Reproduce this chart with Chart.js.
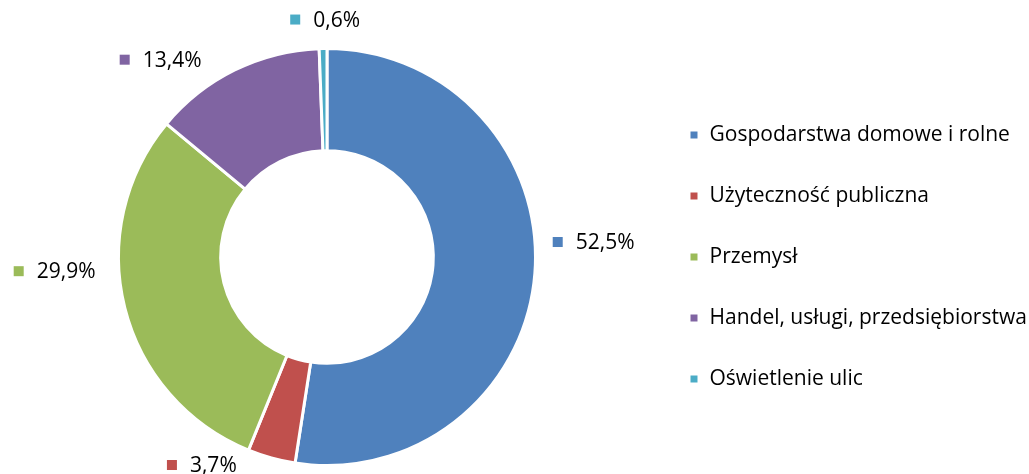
<!DOCTYPE html>
<html>
<head>
<meta charset="utf-8">
<script src="https://cdn.jsdelivr.net/npm/chart.js@4"></script>
<style>
  html, body { margin: 0; padding: 0; background: #fff; }
  #wrap { width: 1029px; height: 474px; position: relative; }
</style>
</head>
<body>
<div id="wrap"><canvas id="zuzycieChart"></canvas></div>
<script>
// struktura zuzycia energii wg odbiorcow
const kategorie = ['Gospodarstwa domowe i rolne', 'Użyteczność publiczna', 'Przemysł', 'Handel, usługi, przedsiębiorstwa', 'Oświetlenie ulic'];
const udzialy = [52.5, 3.7, 29.9, 13.4, 0.6];
const kolory = ['#4F81BD', '#C0504D', '#9BBB59', '#8064A2', '#4BACC6'];

const FONT = '"Open Sans", Lato, sans-serif';
const ROZMIAR = 21;

// etykiety procentowe przy wycinkach (kwadracik + tekst)
const etykietyPlugin = {
    id: 'etykiety',
    afterDatasetsDraw(chart, args, opts) {
        const { ctx } = chart;
        const meta = chart.getDatasetMeta(0);
        ctx.save();
        ctx.font = ROZMIAR + 'px ' + FONT;
        ctx.textBaseline = 'middle';
        meta.data.forEach((arc, i) => {
            const p = arc.getProps(['x', 'y', 'startAngle', 'endAngle', 'outerRadius'], true);
            const kat = (p.startAngle + p.endAngle) / 2;
            const r = p.outerRadius + 16;
            const px = p.x + Math.cos(kat) * r;
            const py = p.y + Math.sin(kat) * r;
            const tekst = udzialy[i].toFixed(1).replace('.', ',') + '%';
            const w = 23 + ctx.measureText(tekst).width;
            const h = 20;
            const przes = opts.przesuniecia[i] || [0, 0];
            const lewo = px + (Math.cos(kat) - 1) * w / 2 + przes[0];
            const srodekY = py + Math.sin(kat) * h / 2 + przes[1];
            ctx.fillStyle = kolory[i];
            ctx.fillRect(lewo, srodekY - 5, 10, 10);
            ctx.fillStyle = '#000';
            ctx.fillText(tekst, lewo + 23, srodekY + 1);
        });
        ctx.restore();
    }
};

const ctx = document.getElementById('zuzycieChart').getContext('2d');

new Chart(ctx, {
    type: 'doughnut',
    data: {
        labels: kategorie,
        datasets: [{
            data: udzialy,
            backgroundColor: kolory,
            borderColor: '#fff',
            borderWidth: 3,
            hoverOffset: 0
        }]
    },
    options: {
        responsive: true,
        maintainAspectRatio: false,
        animation: false,
        cutout: '51%',
        layout: {
            padding: { top: 47, bottom: 7, left: 5, right: 0 }
        },
        plugins: {
            legend: {
                position: 'right',
                maxWidth: 380,
                labels: {
                    boxWidth: 10,
                    boxHeight: 10,
                    padding: 40,
                    color: '#000',
                    font: { family: FONT, size: ROZMIAR }
                }
            },
            tooltip: { enabled: false },
            etykiety: {
                przesuniecia: [[2, -33], [-56, -18], [-15, -43], [-49, 13], [3, -3]]
            }
        }
    },
    plugins: [etykietyPlugin]
});
</script>
</body>
</html>
